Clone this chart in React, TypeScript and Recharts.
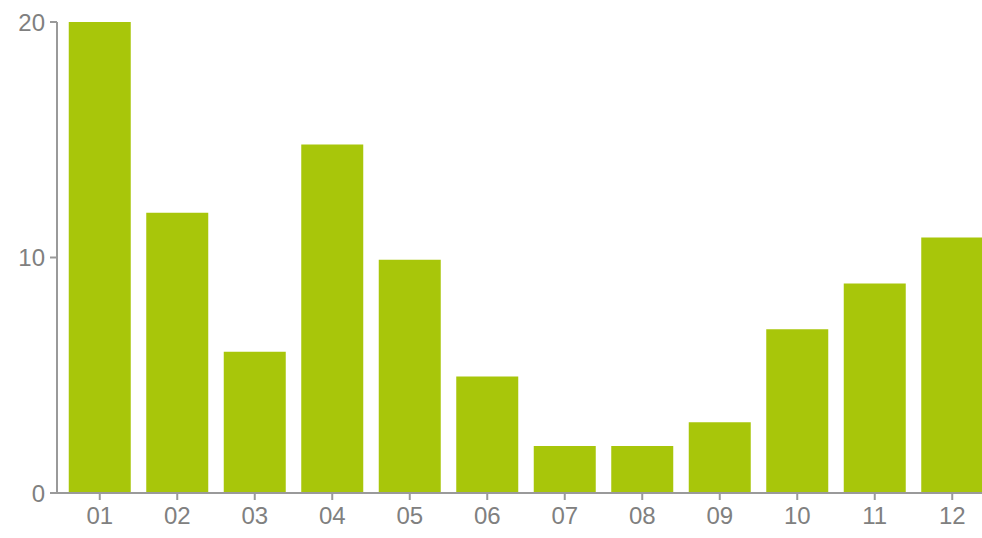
import { BarChart, Bar, XAxis, YAxis } from 'recharts';

const months = ['01', '02', '03', '04', '05', '06', '07', '08', '09', '10', '11', '12'];
const counts = [20, 11.9, 6, 14.8, 9.9, 4.95, 2, 2, 3, 6.95, 8.9, 10.85];
const yTicks = [0, 10, 20];

const data = months.map((m, i) => ({ month: m, count: counts[i] }));

const axisColor = '#9a9a9a';
const tickStyle = {
  fontSize: 24,
  fill: '#808080',
  fontFamily: '"Liberation Sans", Arial, Helvetica, sans-serif',
};

export default function App() {
  return (
    <div
      style={{
        position: 'absolute',
        left: 0,
        top: 0,
        width: 982,
        height: 538,
        overflow: 'hidden',
        background: '#fff',
      }}
    >
      <BarChart
        width={1000}
        height={538}
        data={data}
        margin={{ top: 22, right: 9, left: 0, bottom: 0 }}
        barCategoryGap="10%"
      >
        <XAxis
          dataKey="month"
          height={45}
          interval={0}
          padding={{ left: 4, right: 0 }}
          tick={tickStyle}
          tickSize={7}
          tickMargin={7}
          stroke={axisColor}
          strokeWidth={2}
        />
        <YAxis
          width={57}
          domain={[0, 20]}
          ticks={yTicks}
          tick={tickStyle}
          tickSize={7}
          tickMargin={5}
          stroke={axisColor}
          strokeWidth={2}
        />
        <Bar dataKey="count" fill="#a8c60a" isAnimationActive={false} />
      </BarChart>
    </div>
  );
}
